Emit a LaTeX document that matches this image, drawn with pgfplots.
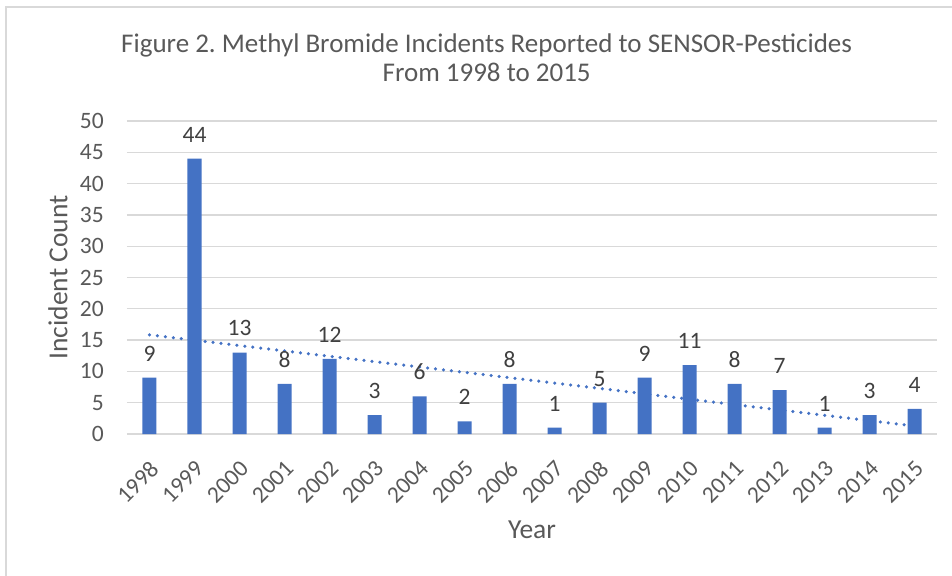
\documentclass[border=0pt]{standalone}
\usepackage{pgfplots}
\pgfplotsset{compat=1.18}
\usepackage{fontspec}
\setmainfont{Carlito}
\frenchspacing
\definecolor{barblue}{HTML}{4472C4}
\definecolor{txt}{HTML}{595959}
\definecolor{lbl}{HTML}{404040}
\definecolor{gridc}{HTML}{D9D9D9}
\begin{document}
\begin{tikzpicture}[x=1pt,y=1pt]
\useasboundingbox (-127,-141) rectangle (825,434);
\draw[gridc, line width=1.5pt] (-121,-150) -- (-121,427) -- (830,427);
\begin{axis}[
  at={(0,0)}, anchor=south west,
  scale only axis, width=810pt, height=313pt,
  xmin=-0.5, xmax=17.5, ymin=0, ymax=50,
  xtick={0,...,17},
  xticklabels={1998,1999,2000,2001,2002,2003,2004,2005,2006,2007,2008,2009,2010,2011,2012,2013,2014,2015},
  ytick={0,5,...,50},
  ymajorgrids, grid style={gridc, line width=1.3pt},
  axis line style={draw=none},
  major tick length=0pt,
  /pgf/number format/assume math mode=true,
  tick label style={font=\fontsize{23.5}{28}\selectfont, text=txt},
  x tick label style={xshift=5pt, yshift=-31pt, rotate=45, anchor=east, inner sep=0pt},
  yticklabel style={anchor=east, inner sep=0pt, xshift=-23pt},
  xlabel={Year}, ylabel={Incident Count},
  label style={font=\fontsize{27.5}{30}\selectfont, text=txt},
  xlabel style={at={(axis description cs:0.5,-0.3067)}, anchor=center},
  ylabel style={at={(axis description cs:-0.0852,0.5)}, anchor=center},
  title={Figure 2. Methyl Bromide Incidents Reported to SENSOR-Pesticides\\From 1998 to 2015},
  title style={at={(axis description cs:0.444,1.182)}, anchor=center, align=center, font=\fontsize{27}{29}\selectfont, text=txt},
  clip=false,
]
\addplot[barblue, line width=3.5pt, dash pattern=on 0pt off 8pt, line cap=round]
  coordinates {(0,15.84) (17,1.28)};
\addplot[ybar, bar width=14pt, fill=barblue, draw=none,
  nodes near coords, nodes near coords style={font=\fontsize{23.5}{28}\selectfont, text=lbl, yshift=13pt}]
  coordinates {(0,9) (1,44) (2,13) (3,8) (4,12) (5,3) (6,6) (7,2) (8,8) (9,1) (10,5) (11,9) (12,11) (13,8) (14,7) (15,1) (16,3) (17,4)};
\end{axis}
\end{tikzpicture}
\end{document}
